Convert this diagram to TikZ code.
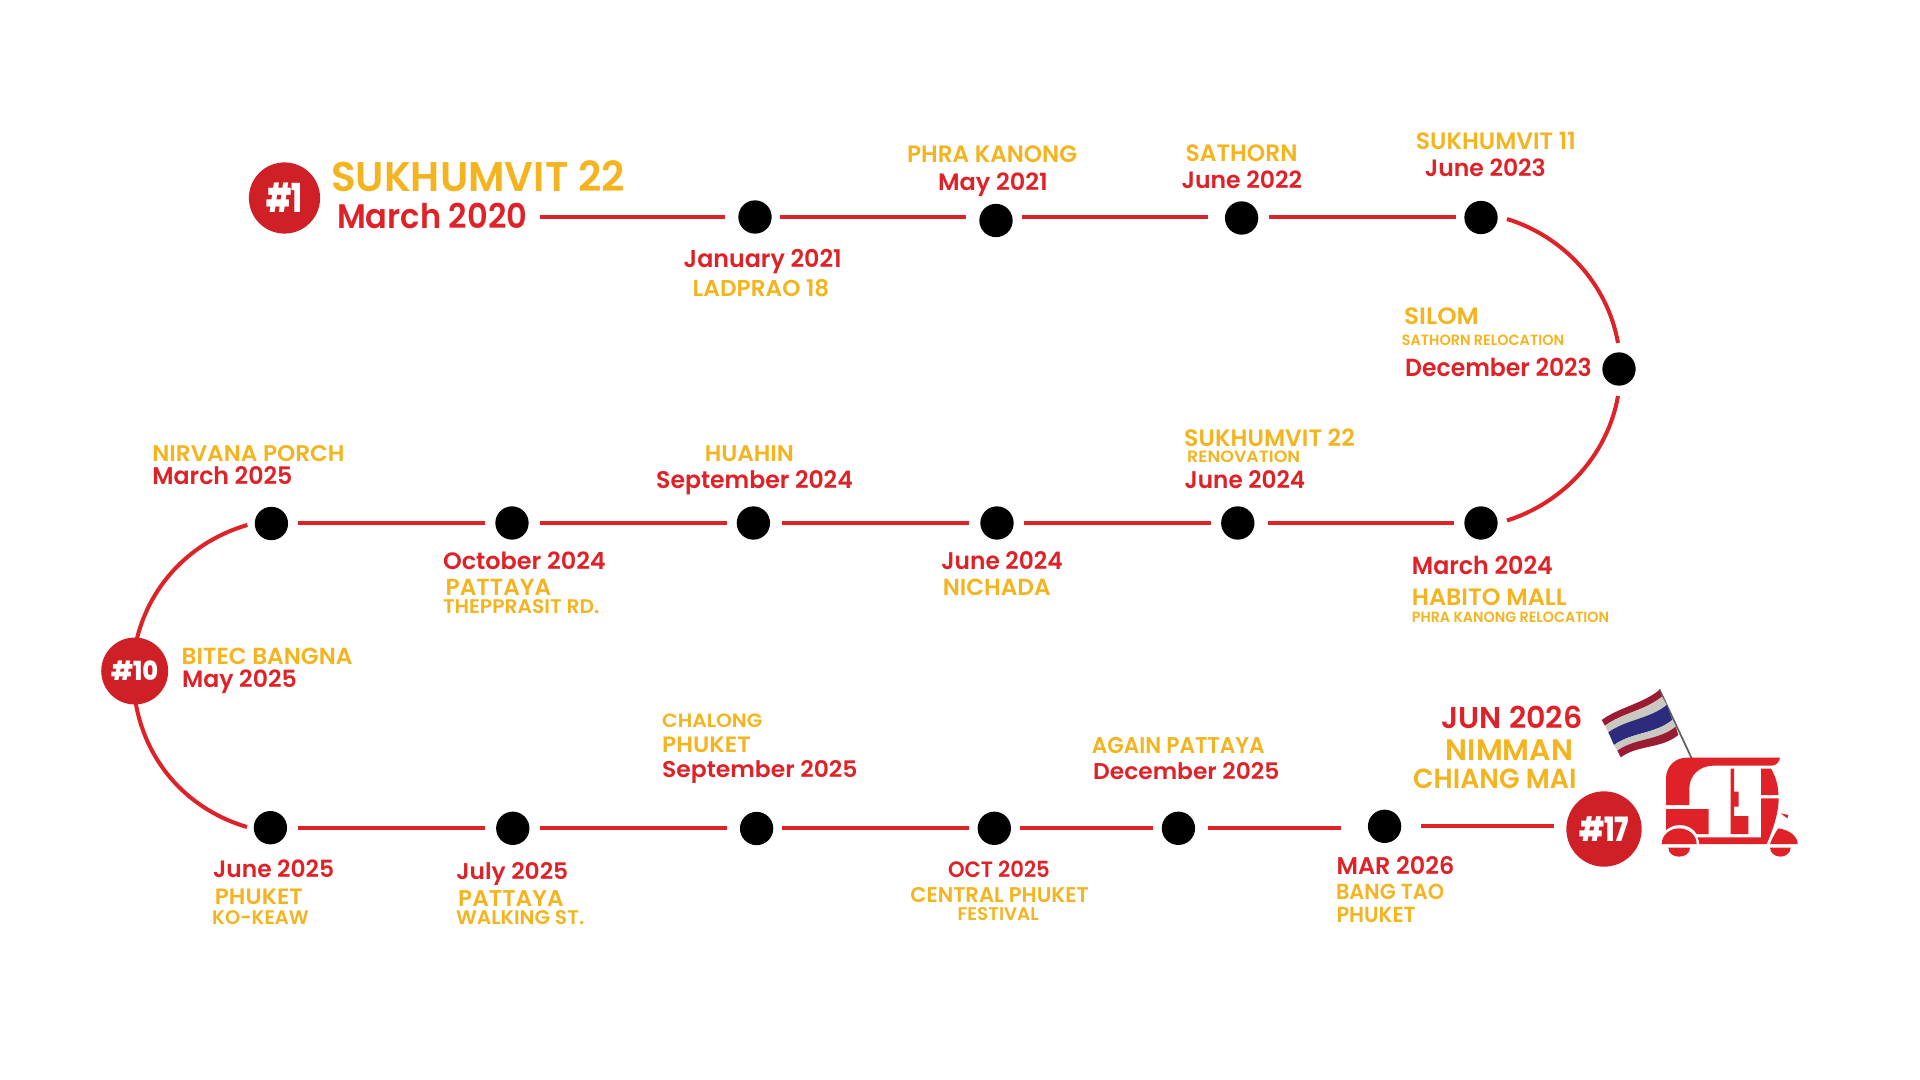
\documentclass[tikz,border=0pt]{standalone}
\usepackage{fontspec}
\usepackage{graphicx}
\setmainfont{Poppins}[BoldFont={Poppins SemiBold}]
\newfontfamily\badgefont{Poppins ExtraBold}
\definecolor{lineRed}{HTML}{DF2228}
\definecolor{badgeRed}{HTML}{CF2027}
\definecolor{gold}{HTML}{F4B41F}
\definecolor{flagRed}{HTML}{9B1B32}
\definecolor{flagWhite}{HTML}{F3F3EE}
\definecolor{flagShade}{HTML}{C9C9C2}
\definecolor{flagBlue}{HTML}{2D2C7C}
\tikzset{
  connector/.style={draw=lineRed,line width=3pt},
  stopdot/.style={circle,fill=black,inner sep=0pt,minimum size=25pt},
  badge/.style={circle,fill=badgeRed,text=white,inner sep=0pt},
  caption/.style={anchor=base west,inner sep=0pt,outer sep=0pt},
  tuk/.style={fill=lineRed},
  flagpale/.style={left color=flagShade,middle color=flagWhite,right color=flagShade}
}
% caption: name, colour, left x, right x, baseline y, cap height, text
\newcommand{\lbl}[7]{%
  \pgfmathsetmacro{\lblfs}{#6*1.11}%
  \pgfmathsetmacro{\lblw}{(#4-#3+1.6)*0.75}%
  \pgfmathsetmacro{\lblx}{#3-0.8}%
  \pgfmathsetmacro{\lbly}{#5+0.6}%
  \node[caption,text=#2] (#1) at (\lblx,\lbly)
    {\fontsize{\lblfs pt}{\lblfs pt}\selectfont\resizebox{\lblw pt}{\height}{\bfseries #7}};}
% badge text: cap height, width in px, text
\newcommand{\badgetext}[3]{%
  \pgfmathsetmacro{\lblfs}{#1*1.07}%
  \pgfmathsetmacro{\lblw}{#2*0.75}%
  {\badgefont\fontsize{\lblfs pt}{\lblfs pt}\selectfont\resizebox{\lblw pt}{\height}{#3}}}
% straight connector along one row: from, to, row y, gap at start, gap at end
\newcommand{\seg}[5]{%
  \draw[connector,shorten <=#4*0.75pt,shorten >=#5*0.75pt] (#1 |- 0,#3) -- (#2 |- 0,#3);}
% one wavy stripe of the flag, between two boundaries
\newcommand{\band}[3]{%
  \path[#1] #2 .. controls +(52,-38) and +(-52,42) .. #3;}
\begin{document}
\begin{tikzpicture}[x=0.75pt,y=-0.75pt]
\useasboundingbox (0,0) rectangle (1920,1080);
\fill[white] (0,0) rectangle (1920,1080);

% stops
\node[stopdot] (d1) at (755,217) {};
\node[stopdot] (d2) at (996,220.5) {};
\node[stopdot] (d3) at (1241.6,218) {};
\node[stopdot] (d4) at (1481,217.5) {};
\node[stopdot] (d5) at (1619,369) {};
\node[stopdot] (d6) at (1481,523) {};
\node[stopdot] (d7) at (1237.8,523) {};
\node[stopdot] (d8) at (997,523) {};
\node[stopdot] (d9) at (753.4,523) {};
\node[stopdot] (d10) at (512,523) {};
\node[stopdot] (d11) at (271.4,523.5) {};
\node[stopdot] (d12) at (270.4,827.7) {};
\node[stopdot] (d13) at (512.8,828.3) {};
\node[stopdot] (d14) at (756.6,828.5) {};
\node[stopdot] (d15) at (994.3,828.3) {};
\node[stopdot] (d16) at (1178.4,828.3) {};
\node[stopdot] (d17) at (1384.6,826.3) {};

% free ends of the connectors
\coordinate (start) at (540,217);
\coordinate (arcAa) at (1507,219);
\coordinate (arcAb) at (1618,343);
\coordinate (arcBa) at (1618,396);
\coordinate (arcBb) at (1507,520.5);
\coordinate (arcCa) at (247.3,525);
\coordinate (arcCb) at (136.6,640);
\coordinate (arcDa) at (135.5,702);
\coordinate (arcDb) at (247,827);

% top row
\seg{start}{d1}{217}{0}{30.5}
\seg{d1}{d2}{217}{24.6}{30}
\seg{d2}{d3}{217}{25.6}{33.6}
\seg{d3}{d4}{217}{27.4}{25}
% right-hand bend
\draw[connector] (arcAa) .. controls (1564,236.6) and (1607.6,284.3) .. (arcAb);
\draw[connector] (arcBa) .. controls (1607.6,454.7) and (1564,502.4) .. (arcBb);
% middle row
\seg{d6}{d7}{523}{27}{30}
\seg{d7}{d8}{523}{27.3}{27}
\seg{d8}{d9}{523}{28}{28.6}
\seg{d9}{d10}{523}{26.4}{28}
\seg{d10}{d11}{523}{27}{26.6}
% left-hand bend
\draw[connector] (arcCa) .. controls (193.2,540.7) and (150.3,582.7) .. (arcCb);
\draw[connector] (arcDa) .. controls (147,768) and (193.2,811.3) .. (arcDb);
% bottom row
\seg{d12}{d13}{828.3}{28}{28}
\seg{d13}{d14}{828.3}{27.5}{30}
\seg{d14}{d15}{828.3}{25.7}{25.7}
\seg{d15}{d16}{828.3}{26}{25.7}
\seg{d16}{d17}{828.3}{30}{44}

% milestone badges
\node[badge,minimum size=53.4pt] (b1) at (284.5,198) {\badgetext{28}{36}{\#1}};
\node[badge,minimum size=50.2pt] (b10) at (134.7,671) {\badgetext{18.5}{47}{\#10}};
\node[badge,minimum size=56.5pt] (b17) at (1604,829) {\badgetext{23.5}{50}{\#17}};
\seg{d17}{b17}{826.3}{36.7}{50.4}

% captions of the top row
\lbl{t1a}{gold}{331.8}{624}{190.7}{28}{SUKHUMVIT 22}
\lbl{t1b}{lineRed}{337.9}{526.4}{228}{23}{March 2020}
\lbl{t2a}{lineRed}{684.5}{841}{267.3}{16.5}{January 2021}
\lbl{t2b}{gold}{693.5}{828.6}{295.7}{15.5}{LADPRAO 18}
\lbl{t3a}{gold}{907.8}{1076.3}{162}{16}{PHRA KANONG}
\lbl{t3b}{lineRed}{938.8}{1047}{190}{16}{May 2021}
\lbl{t4a}{gold}{1186.5}{1296.7}{161}{16}{SATHORN}
\lbl{t4b}{lineRed}{1182.4}{1301.3}{188}{16}{June 2022}
\lbl{t5a}{gold}{1416.7}{1575}{149.3}{16}{SUKHUMVIT 11}
\lbl{t5b}{lineRed}{1425.7}{1545}{176}{16}{June 2023}
\lbl{t6a}{gold}{1405}{1478}{324}{16}{SILOM}
\lbl{t6b}{gold}{1402.7}{1563.3}{345}{10}{SATHORN RELOCATION}
\lbl{t6c}{lineRed}{1406}{1591}{376}{16.7}{December 2023}
% captions of the middle row
\lbl{t7a}{lineRed}{1412.7}{1552}{574}{16.7}{March 2024}
\lbl{t7b}{gold}{1412.7}{1566}{605}{16}{HABITO MALL}
\lbl{t7c}{gold}{1412.7}{1608.3}{621.7}{10}{PHRA KANONG RELOCATION}
\lbl{t8a}{gold}{1185}{1354}{446}{16}{SUKHUMVIT 22}
\lbl{t8b}{gold}{1188}{1299.4}{461.7}{11}{RENOVATION}
\lbl{t8c}{lineRed}{1185.5}{1304.3}{488}{16.3}{June 2024}
\lbl{t9a}{lineRed}{942.2}{1061.9}{569}{16.3}{June 2024}
\lbl{t9b}{gold}{943.6}{1049.8}{595}{15.7}{NICHADA}
\lbl{t10a}{gold}{705.6}{793}{461}{15.3}{HUAHIN}
\lbl{t10b}{lineRed}{657}{852}{488}{16.3}{September 2024}
\lbl{t11a}{lineRed}{443.8}{605}{568.7}{16}{October 2024}
\lbl{t11b}{gold}{446.5}{550.5}{595}{15.7}{PATTAYA}
\lbl{t11c}{gold}{443.8}{598.5}{612.7}{13.3}{THEPPRASIT RD.}
\lbl{t12a}{gold}{153.2}{343.8}{461}{15.3}{NIRVANA PORCH}
\lbl{t12b}{lineRed}{153.2}{291.6}{484}{16.3}{March 2025}
\lbl{t13a}{gold}{182.5}{351.7}{664}{15.7}{BITEC BANGNA}
\lbl{t13b}{lineRed}{182.9}{296}{686.7}{16}{May 2025}
% captions of the bottom row
\lbl{t14a}{lineRed}{213.9}{333.3}{876.7}{16}{June 2025}
\lbl{t14b}{gold}{215.7}{302}{904.3}{15}{PHUKET}
\lbl{t14c}{gold}{213}{308}{923.7}{13.3}{KO-KEAW}
\lbl{t15a}{lineRed}{457.2}{567.4}{878.5}{15.4}{July 2025}
\lbl{t15b}{gold}{459}{562.8}{905.7}{15.4}{PATTAYA}
\lbl{t15c}{gold}{456.8}{583.5}{923.7}{13.3}{WALKING ST.}
\lbl{t16a}{gold}{663}{761.6}{727.3}{13}{CHALONG}
\lbl{t16b}{gold}{663}{750}{751.7}{15}{PHUKET}
\lbl{t16c}{lineRed}{663}{856.7}{777.3}{15.4}{September 2025}
\lbl{t17a}{lineRed}{948.9}{1049}{876.7}{15}{OCT 2025}
\lbl{t17b}{gold}{911.2}{1088}{901.7}{14.4}{CENTRAL PHUKET}
\lbl{t17c}{gold}{958.5}{1038}{919.7}{12.4}{FESTIVAL}
\lbl{t18a}{gold}{1092.6}{1263.8}{752.7}{15.4}{AGAIN PATTAYA}
\lbl{t18b}{lineRed}{1094}{1278.5}{779.3}{15.4}{December 2025}
\lbl{t19a}{lineRed}{1337.3}{1453.5}{873.7}{16.3}{MAR 2026}
\lbl{t19b}{gold}{1336.8}{1443.4}{899}{14.7}{BANG TAO}
\lbl{t19c}{gold}{1337.3}{1414.9}{922}{14.7}{PHUKET}
\lbl{t20a}{lineRed}{1442.4}{1581.6}{727.7}{20.3}{JUN 2026}
\lbl{t20b}{gold}{1446.6}{1572.4}{760}{20}{NIMMAN}
\lbl{t20c}{gold}{1414}{1575.6}{788}{18.7}{CHIANG MAI}

% tuk-tuk with its flag
\begin{scope}[shift={(1540,660)},x=0.25pt,y=-0.25pt]
  \draw[gray!75!black,line width=1.3pt] (358,88) -- (455,295);
  \band{fill=flagRed}{(185,180)}{(358,90) -- (366,110) .. controls +(-52,42) and +(52,-38) .. (195,197) -- cycle}
  \band{flagpale}{(195,197)}{(366,110) -- (380,135) .. controls +(-52,42) and +(52,-38) .. (205,217) -- cycle}
  \band{fill=flagBlue}{(205,217)}{(380,135) -- (397,180) .. controls +(-52,42) and +(52,-38) .. (222,255) -- cycle}
  \band{flagpale}{(222,255)}{(397,180) -- (407,200) .. controls +(-52,42) and +(52,-38) .. (232,272) -- cycle}
  \band{fill=flagRed}{(232,272)}{(407,200) -- (415,225) .. controls +(-52,42) and +(52,-38) .. (242,292) -- cycle}
  % roof and front pillar
  \fill[tuk] (378,435) -- (378,355) .. controls (378,320) and (405,293) .. (440,293) -- (720,293)
    .. controls (718,305) and (710,316) .. (695,317) -- (520,317)
    .. controls (480,317) and (448,345) .. (448,385) -- (448,435) -- cycle;
  % rear window frame and rear panel
  \fill[tuk] (663,326) -- (693,326) .. controls (708,350) and (715,380) .. (715,405) -- (663,405) -- cycle;
  \fill[tuk] (663,415) -- (716,415) .. controls (716,450) and (705,495) .. (680,552) -- (478,552)
    .. controls (478,545) and (476,538) .. (472,532) -- (663,532) -- cycle;
  % centre spine and seat
  \fill[tuk] (572,326) -- (582,326) -- (582,395) -- (596,395) -- (596,440) -- (582,440) -- (582,468)
    -- (625,468) -- (625,522) -- (572,522) -- cycle;
  % lower front panel
  \fill[tuk] (378,447) -- (506,447) -- (506,522) -- (470,522) .. controls (458,503) and (440,495) .. (418,495)
    .. controls (405,495) and (390,500) .. (378,510) -- cycle;
  % wheels and tail light
  \fill[tuk] (365,552) .. controls (365,525) and (390,505) .. (417,505) .. controls (445,505) and (470,525) .. (470,552) -- cycle;
  \fill[tuk] (385,563) -- (450,563) .. controls (450,580) and (435,590) .. (417,590) .. controls (400,590) and (385,580) .. (385,563) -- cycle;
  \fill[tuk] (690,552) .. controls (698,530) and (708,515) .. (715,505) .. controls (750,510) and (773,530) .. (773,552) -- cycle;
  \fill[tuk] (690,563) -- (752,563) .. controls (752,578) and (738,590) .. (721,590) .. controls (704,590) and (690,578) .. (690,563) -- cycle;
  \fill[tuk] (722,460) -- (745,465) -- (742,475) -- cycle;
\end{scope}
\end{tikzpicture}
\end{document}
